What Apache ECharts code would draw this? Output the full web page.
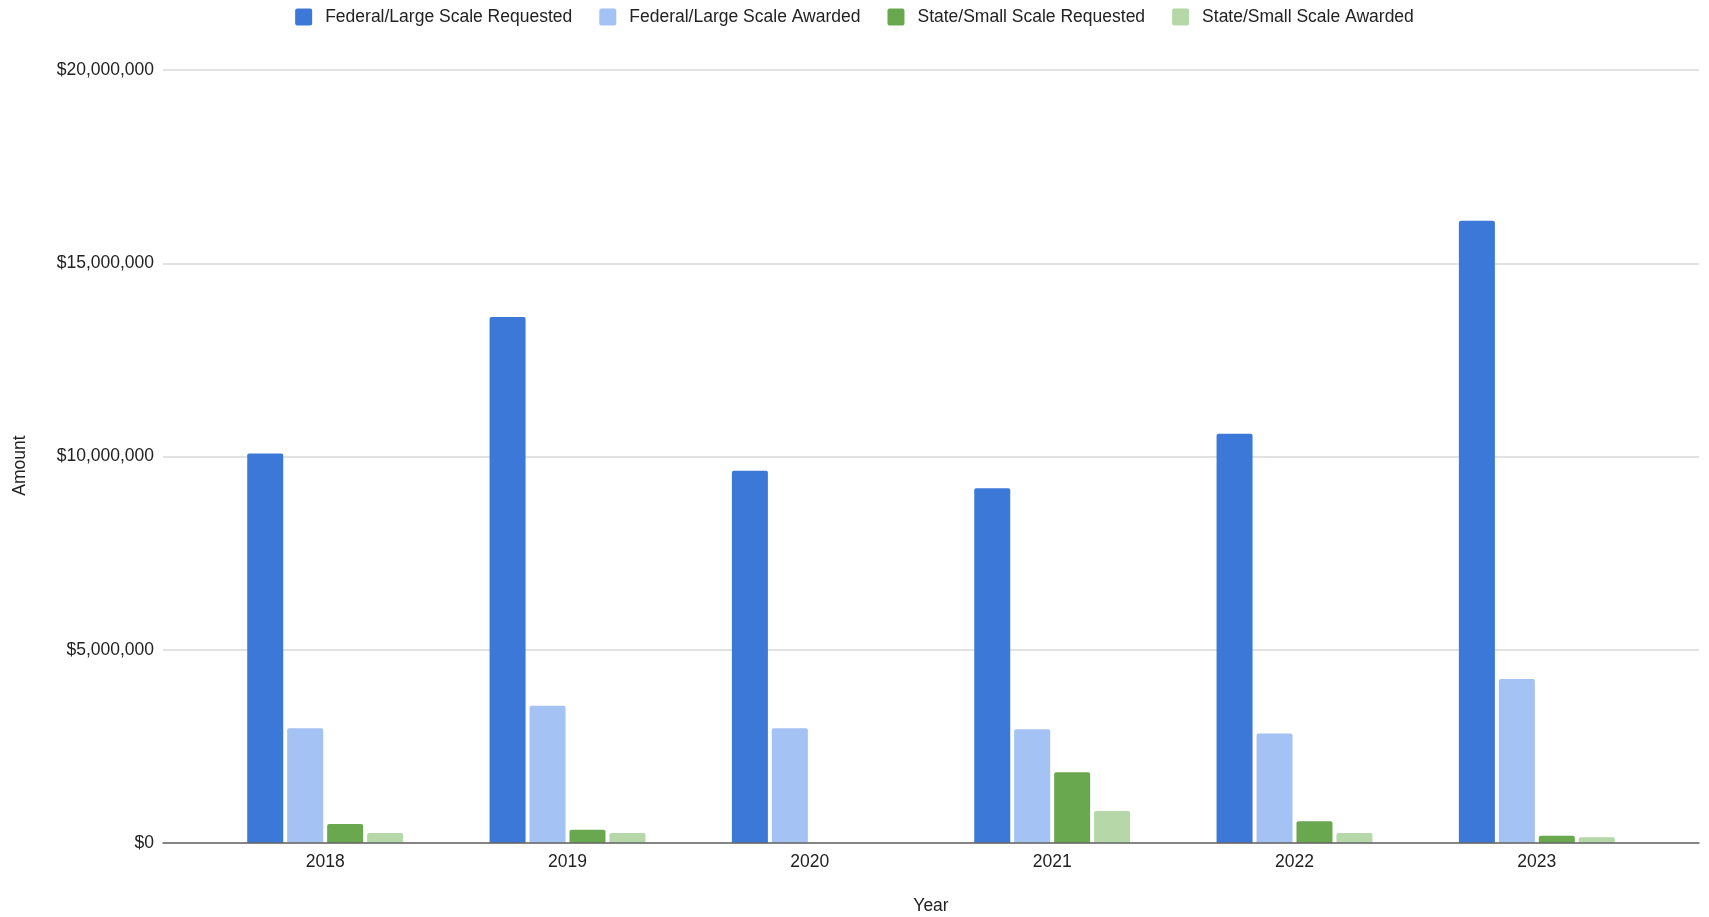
<!DOCTYPE html>
<html>
<head>
<meta charset="utf-8">
<script src="https://cdn.jsdelivr.net/npm/echarts@6/dist/echarts.min.js"></script>
<style>
html,body{margin:0;padding:0;background:#fff;}
#chart{width:1709px;height:917px;}
</style>
</head>
<body>
<div id="chart"></div>
<script>
const years = ['2018', '2019', '2020', '2021', '2022', '2023'];
const federalRequested = [10080000, 13610000, 9630000, 9180000, 10590000, 16100000];
const federalAwarded = [2970000, 3550000, 2970000, 2940000, 2830000, 4240000];
const stateRequested = [490000, 340000, 0, 1830000, 560000, 190000];
const stateAwarded = [260000, 260000, 0, 830000, 260000, 150000];
const seriesNames = ['Federal/Large Scale Requested', 'Federal/Large Scale Awarded', 'State/Small Scale Requested', 'State/Small Scale Awarded'];
const colors = ['#3c78d8', '#a4c2f4', '#6aa84f', '#b6d7a8'];

const font = 'Liberation Sans, Arial, Helvetica, sans-serif';
const fs = 17.5;

const chart = echarts.init(document.getElementById('chart'), null, {renderer: 'canvas'});
const seriesData = [federalRequested, federalAwarded, stateRequested, stateAwarded];

chart.setOption({
  animation: false,
  color: colors,
  textStyle: {fontFamily: font},
  legend: {
    top: 3,
    left: 'center',
    itemWidth: 17,
    itemHeight: 17,
    itemGap: 27,
    icon: 'path://M2,0 L15,0 Q17,0 17,2 L17,15 Q17,17 15,17 L2,17 Q0,17 0,15 L0,2 Q0,0 2,0 Z',
    textStyle: {fontSize: fs, color: '#222', fontFamily: font, padding: [0, 0, 0, 8]},
    data: seriesNames
  },
  grid: [
    {left: 163, right: 10, top: 70, bottom: 74, containLabel: false, outerBoundsMode: 'none'},
    {left: 204, right: 51, top: 70, bottom: 74, containLabel: false, outerBoundsMode: 'none'}
  ],
  xAxis: [
    {
      gridIndex: 0, type: 'category', data: years,
      axisLabel: {show: false}, axisTick: {show: false},
      axisLine: {show: true, lineStyle: {color: '#666', width: 1.5}},
      z: 5
    },
    {
      gridIndex: 1, type: 'category', data: years,
      axisLine: {show: false}, axisTick: {show: false},
      axisLabel: {fontSize: fs, color: '#222', margin: 10, fontFamily: font},
      name: 'Year', nameLocation: 'middle', nameGap: 54,
      nameTextStyle: {fontSize: fs, color: '#222', fontFamily: font}
    }
  ],
  yAxis: [
    {
      gridIndex: 0, type: 'value', min: 0, max: 20000000, interval: 5000000,
      axisLine: {show: false}, axisTick: {show: false},
      axisLabel: {
        fontSize: fs, color: '#222', margin: 9, fontFamily: font,
        formatter: v => '$' + Number(v).toLocaleString('en-US')
      },
      splitLine: {show: true, lineStyle: {color: '#d9d9d9', width: 1.5}},
      name: 'Amount', nameLocation: 'middle', nameGap: 134,
      nameTextStyle: {fontSize: fs, color: '#222', fontFamily: font, padding: [0, 18, 0, 0]}
    },
    {
      gridIndex: 1, type: 'value', min: 0, max: 20000000, interval: 5000000,
      show: false, splitLine: {show: false}
    }
  ],
  series: seriesData.map((d, i) => ({
    name: seriesNames[i],
    type: 'bar',
    xAxisIndex: 1,
    yAxisIndex: 1,
    data: d,
    barWidth: 36,
    barGap: '11%',
    itemStyle: {color: colors[i], borderRadius: [2, 2, 0, 0]}
  }))
});
</script>
</body>
</html>
